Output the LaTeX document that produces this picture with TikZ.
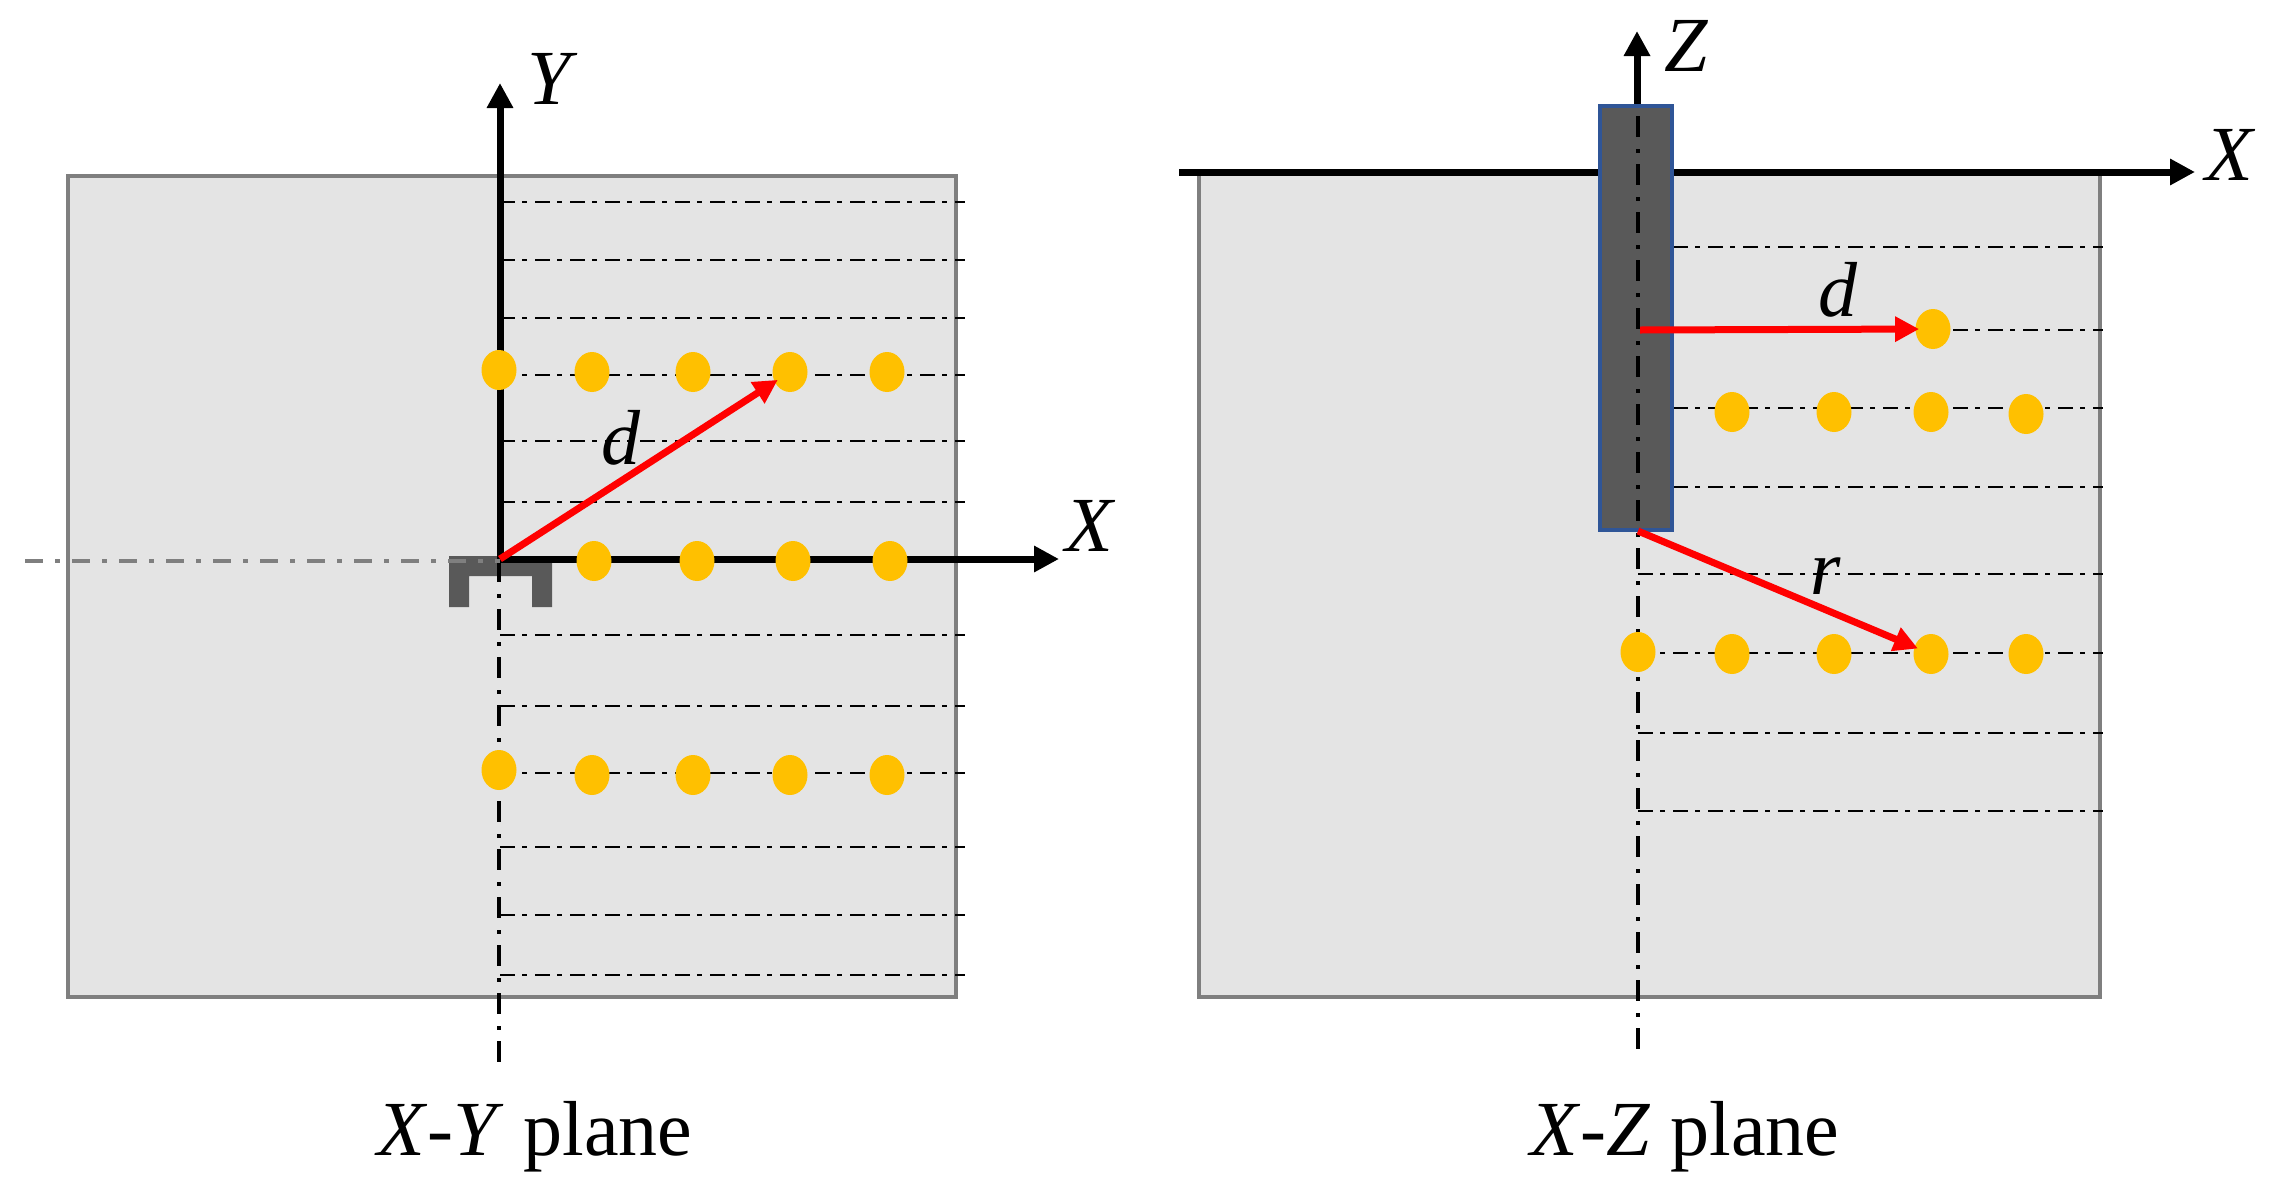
\documentclass[tikz,border=0pt]{standalone}
\usepackage{fontspec}
\setmainfont{Liberation Serif}
\usetikzlibrary{arrows.meta, shapes.geometric}

\begin{document}
\begin{tikzpicture}[
    x = 0.5pt, y = -0.5pt,
    every node/.style = {font = \fontsize{39}{39}\selectfont, inner sep = 0pt},
    axis label/.style = {anchor = base},
    panel/.style = {draw = panel edge, fill = panel fill, line width = 2pt},
    grid line/.style = {line width = 1.25pt,
      dash pattern = on 7.5pt off 3.5pt on 2.5pt off 4pt},
    centre line/.style = {line width = 2.4pt,
      dash pattern = on 10.5pt off 6pt on 2pt off 5.5pt},
    far line/.style = {draw = panel edge, line width = 2.4pt,
      dash pattern = on 9pt off 6pt on 2.5pt off 6pt},
    axis/.style = {line width = 3.5pt, -{Triangle[length = 12.5pt, width = 12.5pt]}},
    measure/.style = {red, line width = 3.5pt, shorten > = -2pt,
      -{Triangle[length = 12pt, width = 12pt]}},
    sensor/.style = {ellipse, fill = sensor fill, minimum width = 17.5pt,
      minimum height = 20pt},
  ]
  \definecolor{panel edge}{HTML}{7F7F7F}
  \definecolor{panel fill}{HTML}{E4E4E4}
  \definecolor{sensor fill}{HTML}{FFC000}
  \definecolor{probe fill}{HTML}{595959}
  \definecolor{probe edge}{HTML}{2F5597}
  \useasboundingbox (0,0) rectangle (2276,1189);

  % X-Y plane
  \draw [panel] (68,176) rectangle (956,997);
  \foreach \y in {202,260,318,375,441,502,635,706,773,847,915,975} {
    \draw [grid line] (500,\y) -- (965,\y);
  }
  \coordinate (xy origin) at (500,559);
  \coordinate (xy top) at (500,83);
  \coordinate (xy right) at (1059,559);
  \coordinate (xy far left) at (25,561);
  \coordinate (xy bottom) at (499,1065);
  \fill [probe fill] (449,556) -- (552,556) -- (552,607) -- (532,607) -- (532,576)
    -- (469,576) -- (469,607) -- (449,607) -- cycle;
  \draw [centre line] (499,561) -- (xy bottom);
  \draw [axis] (xy origin) -- (xy top);
  \draw [axis] (499,559) -- (xy right);
  \draw [far line] (xy far left) -- (500,561);

  \foreach \i/\x in {2/592,3/693,4/790,5/887} {
    \node [sensor] (xy upper \i) at (\x,372) {};
    \node [sensor] (xy lower \i) at (\x,775) {};
  }
  \node [sensor] (xy upper 1) at (499,370) {};
  \node [sensor] (xy lower 1) at (499,770) {};
  \foreach \i/\x in {1/594,2/697,3/793,4/890} {
    \node [sensor] (xy middle \i) at (\x,561) {};
  }
  \draw [measure] (xy origin) -- (xy upper 4);

  \node [axis label] (xy label y) at (553,104) {\textit{Y}};
  \node [axis label] (xy label x) at (1091,551) {\textit{X}};
  \node [axis label] (xy label d) at (621,464) {\textit{d}};
  \node [axis label] (xy caption) at (535,1155) {\textit{X}-\textit{Y} plane};

  % X-Z plane
  \draw [panel] (1199,172) rectangle (2100,997);
  \foreach \y in {247,330,408,487,574,653,733,811} {
    \draw [grid line] (1638,\y) -- (2103,\y);
  }
  \coordinate (xz left) at (1179,172);
  \coordinate (xz right) at (2195,172);
  \coordinate (xz probe top) at (1637,106);
  \coordinate (xz top) at (1637,31);
  \coordinate (xz probe mid) at (1640,330);
  \coordinate (xz probe end) at (1638,531);
  \coordinate (xz bottom) at (1638,1060);
  \draw [axis] (xz left) -- (xz right);
  \draw [axis] (xz probe top) -- (xz top);
  \draw [draw = probe edge, fill = probe fill, line width = 2pt]
    (1600,106) rectangle (1672,530);
  \draw [centre line] (1638,116) -- (xz bottom);

  \node [sensor] (xz single) at (1933,329) {};
  \foreach \i/\x/\y in {1/1732/412,2/1834/412,3/1931/412,4/2026/414} {
    \node [sensor] (xz upper \i) at (\x,\y) {};
  }
  \node [sensor] (xz lower 0) at (1638,652) {};
  \foreach \i/\x in {1/1732,2/1834,3/1931,4/2026} {
    \node [sensor] (xz lower \i) at (\x,654) {};
  }
  \draw [measure] (xz probe mid) -- (xz single);
  \draw [measure] (xz probe end) -- (xz lower 3);

  \node [axis label] (xz label z) at (1686,71) {\textit{Z}};
  \node [axis label] (xz label x) at (2231,180) {\textit{X}};
  \node [axis label] (xz label d) at (1838,316) {\textit{d}};
  \node [axis label] (xz label r) at (1826,594) {\textit{r}};
  \node [axis label] (xz caption) at (1685,1155) {\textit{X}-\textit{Z} plane};
\end{tikzpicture}
\end{document}
